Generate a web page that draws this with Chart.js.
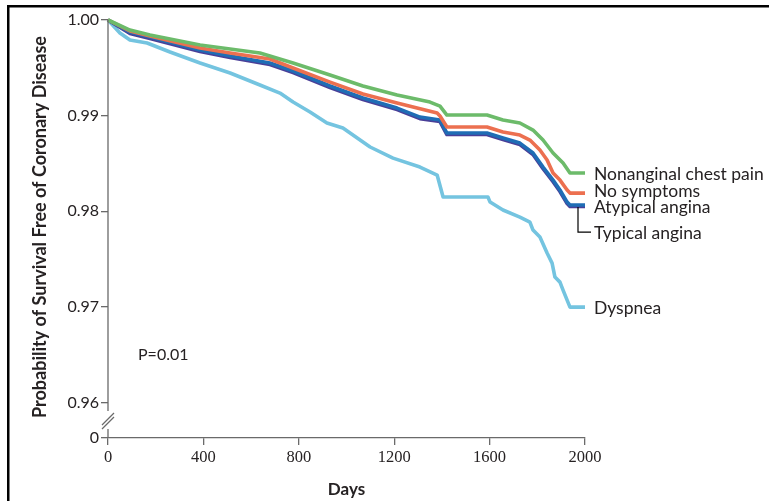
<!DOCTYPE html>
<html>
<head>
<meta charset="utf-8">
<script src="https://cdn.jsdelivr.net/npm/chart.js@4.4.1/dist/chart.umd.min.js"></script>
<style>
html,body{margin:0;padding:0;background:#fff;}
#wrap{position:absolute;left:0;top:0;width:769px;height:501px;}
</style>
</head>
<body>
<div id="wrap"><canvas id="c" width="769" height="501"></canvas></div>
<script>
// ---- data ----
const xTicks = [0, 400, 800, 1200, 1600, 2000];
const yTicks = [0.96, 0.97, 0.98, 0.99, 1.00];
const yZeroPos = 0.95629; // where the broken axis shows "0"

const nonanginalDays = [0, 92, 176, 260, 386, 512, 637, 776, 931, 1069, 1212, 1350, 1392, 1421, 1589, 1656, 1727, 1782, 1824, 1866, 1908, 1937, 2000];
const nonanginalSurv = [1.0, 0.99895, 0.99843, 0.99801, 0.99738, 0.99697, 0.99655, 0.99550, 0.99425, 0.99310, 0.99215, 0.99142, 0.99100, 0.99006, 0.99006, 0.98954, 0.98923, 0.98849, 0.98745, 0.98609, 0.98504, 0.98400, 0.98400];

const noSymptomsDays = [0, 92, 176, 386, 512, 679, 776, 931, 1069, 1212, 1380, 1392, 1421, 1589, 1656, 1727, 1769, 1811, 1841, 1866, 1895, 1925, 1937, 2000];
const noSymptomsSurv = [1.0, 0.99885, 0.99833, 0.99707, 0.99655, 0.99592, 0.99498, 0.99351, 0.99226, 0.99132, 0.99027, 0.98996, 0.98881, 0.98881, 0.98828, 0.98797, 0.98745, 0.98640, 0.98536, 0.98400, 0.98326, 0.98222, 0.98190, 0.98190];

const atypicalDays = [0, 92, 176, 386, 512, 679, 776, 931, 1069, 1212, 1308, 1392, 1421, 1589, 1656, 1727, 1782, 1824, 1866, 1895, 1925, 1937, 2000];
const atypicalSurv = [1.0, 0.99874, 0.99822, 0.99686, 0.99623, 0.99550, 0.99467, 0.99310, 0.99184, 0.99079, 0.98985, 0.98954, 0.98818, 0.98818, 0.98766, 0.98713, 0.98609, 0.98462, 0.98326, 0.98222, 0.98096, 0.98065, 0.98065];

const typicalDays = [0, 92, 176, 386, 512, 679, 776, 931, 1069, 1212, 1308, 1392, 1421, 1589, 1656, 1727, 1782, 1824, 1866, 1895, 1925, 1937, 2000];
const typicalSurv = [1.0, 0.99858, 0.99806, 0.99670, 0.99607, 0.99534, 0.99451, 0.99294, 0.99168, 0.99063, 0.98969, 0.98938, 0.98802, 0.98802, 0.98750, 0.98697, 0.98593, 0.98446, 0.98310, 0.98206, 0.98080, 0.98049, 0.98049];

const dyspneaDays = [0, 50, 92, 164, 260, 386, 512, 637, 721, 776, 847, 918, 985, 1099, 1195, 1308, 1380, 1405, 1593, 1602, 1656, 1727, 1769, 1782, 1811, 1841, 1862, 1874, 1895, 1908, 1925, 1937, 2000];
const dyspneaSurv = [1.0, 0.99864, 0.99791, 0.99759, 0.99665, 0.99550, 0.99446, 0.99320, 0.99236, 0.99142, 0.99038, 0.98923, 0.98870, 0.98672, 0.98556, 0.98462, 0.98379, 0.98149, 0.98149, 0.98096, 0.98013, 0.97939, 0.97887, 0.97803, 0.97730, 0.97563, 0.97458, 0.97312, 0.97259, 0.97176, 0.97071, 0.96998, 0.96998];

const seriesNames = ["Nonanginal chest pain", "No symptoms", "Atypical angina", "Typical angina", "Dyspnea"];
const pLabel = "P=0.01";
const xTitle = "Days";
const yTitle = "Probability of Survival Free of Coronary Disease";

// ---- build ----
const pts = (d, v) => d.map((x, i) => ({x: x, y: v[i]}));
const COL = {green:'#6cbb6a', orange:'#ec7050', blue:'#1f6db5', purple:'#4a3f98', light:'#74c4e0'};
const TXT = '#262223';
const AX = '#6a6a6a';

function ds(label, data, color, order) {
  return {label, data, borderColor: color, backgroundColor: color, borderWidth: 3.6,
    pointRadius: 0, tension: 0, fill: false, order, borderJoinStyle: 'round', clip: false};
}

const decor = {
  id: 'decor',
  afterDraw(chart) {
    const ctx = chart.ctx;
    const xs = chart.scales.x, ys = chart.scales.y;
    const x0 = xs.getPixelForValue(0);
    const yTop = ys.getPixelForValue(1.0);
    const yBot = ys.getPixelForValue(yZeroPos);
    ctx.save();
    // frame
    ctx.fillStyle = '#000';
    ctx.fillRect(7, 5, 762, 2.5);
    ctx.fillRect(7, 5, 2.5, 496);
    // broken y axis
    ctx.strokeStyle = AX; ctx.lineWidth = 1.3;
    ctx.beginPath();
    ctx.moveTo(x0, yTop); ctx.lineTo(x0, yBot - 27);
    ctx.moveTo(x0, yBot - 9); ctx.lineTo(x0, yBot);
    ctx.stroke();
    ctx.beginPath();
    ctx.moveTo(x0 - 6, yBot - 13); ctx.lineTo(x0 + 6, yBot - 25);
    ctx.moveTo(x0 - 6, yBot - 9); ctx.lineTo(x0 + 6, yBot - 21);
    ctx.stroke();
    // bracket for Typical angina
    const yAt = ys.getPixelForValue(atypicalSurv[atypicalSurv.length - 1]);
    const xe = xs.getPixelForValue(2000);
    ctx.strokeStyle = '#000'; ctx.lineWidth = 1.2;
    ctx.beginPath();
    ctx.moveTo(xe - 7, yAt + 2); ctx.lineTo(xe - 7, yAt + 27); ctx.lineTo(xe + 6, yAt + 27);
    ctx.stroke();
    // end labels
    ctx.fillStyle = TXT;
    ctx.font = '17.5px Lato';
    ctx.textAlign = 'left'; ctx.textBaseline = 'middle';
    ctx.fillText(seriesNames[0], xe + 9, ys.getPixelForValue(nonanginalSurv[nonanginalSurv.length-1]) + 1);
    ctx.fillText(seriesNames[1], xe + 9, ys.getPixelForValue(noSymptomsSurv[noSymptomsSurv.length-1]) - 2);
    ctx.fillText(seriesNames[2], xe + 9, yAt + 2);
    ctx.fillText(seriesNames[3], xe + 9, yAt + 28);
    ctx.fillText(seriesNames[4], xe + 9, ys.getPixelForValue(dyspneaSurv[dyspneaSurv.length-1]) + 1);
    // P value
    ctx.font = '16px Lato';
    ctx.fillText(pLabel, 138, 355);
    // axis titles
    ctx.font = 'bold 17px Lato';
    ctx.textAlign = 'center';
    ctx.fillText(xTitle, (x0 + xe) / 2, 490);
    ctx.translate(40, 227);
    ctx.rotate(-Math.PI / 2);
    ctx.font = 'bold 18px Lato';
    ctx.fillText(yTitle, 0, 0);
    ctx.restore();
  }
};

new Chart(document.getElementById('c'), {
  type: 'line',
  data: {
    datasets: [
      ds(seriesNames[4], pts(dyspneaDays, dyspneaSurv), COL.light, 5),
      ds(seriesNames[3], pts(typicalDays, typicalSurv), COL.purple, 4),
      ds(seriesNames[2], pts(atypicalDays, atypicalSurv), COL.blue, 3),
      ds(seriesNames[1], pts(noSymptomsDays, noSymptomsSurv), COL.orange, 2),
      ds(seriesNames[0], pts(nonanginalDays, nonanginalSurv), COL.green, 1)
    ]
  },
  options: {
    responsive: false,
    animation: false,
    layout: {padding: {left: 0, top: 20, right: 184, bottom: 0}},
    plugins: {legend: {display: false}, tooltip: {enabled: false}},
    scales: {
      x: {
        type: 'linear', min: 0, max: 2000,
        afterBuildTicks: s => { s.ticks = xTicks.map(v => ({value: v})); },
        afterFit: s => { s.height = 63; },
        border: {display: true, color: AX, width: 1.3},
        grid: {drawOnChartArea: false, drawTicks: true, tickLength: 7, color: AX, lineWidth: 1.3},
        ticks: {color: TXT, font: {family: 'Liberation Serif', size: 16.5}, padding: 3, maxRotation: 0,
          callback: v => String(v)}
      },
      y: {
        type: 'linear', min: yZeroPos, max: 1.0,
        afterBuildTicks: s => { s.ticks = [yZeroPos].concat(yTicks).map(v => ({value: v})); },
        afterFit: s => { s.width = 108; },
        border: {display: false},
        grid: {drawOnChartArea: false, drawTicks: true, tickLength: 7, color: AX, lineWidth: 1.3},
        ticks: {color: TXT, font: {family: 'Lato', size: 16}, padding: 2,
          callback: v => (v < 0.959 ? '0' : v.toFixed(2))}
      }
    }
  },
  plugins: [decor]
});
</script>
</body>
</html>
